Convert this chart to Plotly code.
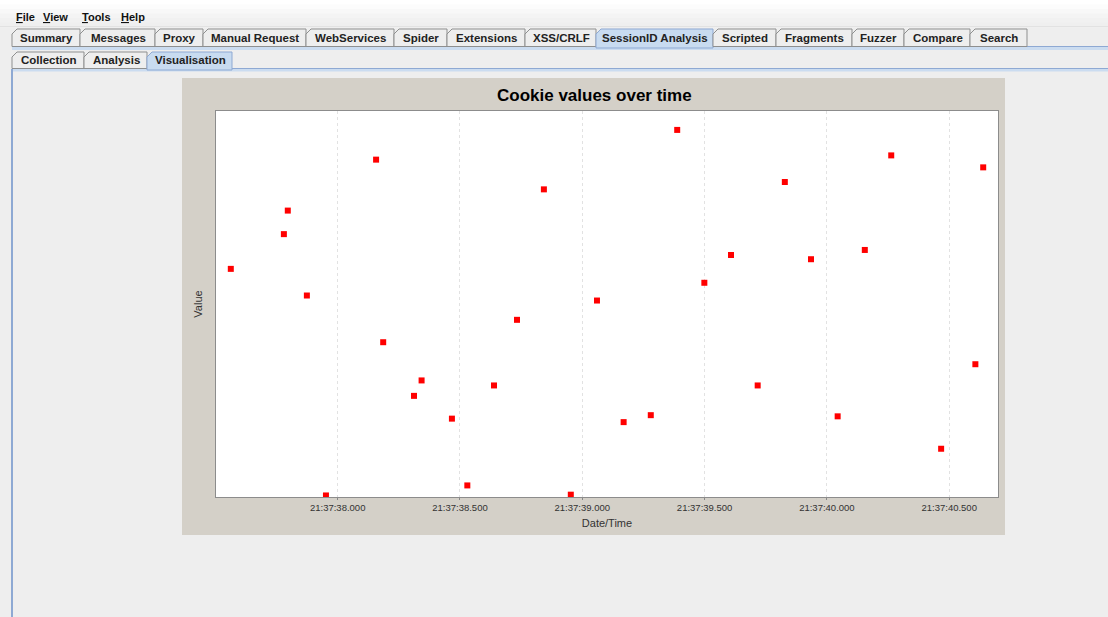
import plotly.graph_objects as go

# ---------------- data ----------------
date_prefix = "2010-06-01 "
times = [
    "21:37:37.563", "21:37:37.780", "21:37:37.796", "21:37:37.874", "21:37:37.952",
    "21:37:38.157", "21:37:38.186", "21:37:38.312", "21:37:38.343", "21:37:38.467",
    "21:37:38.530", "21:37:38.639", "21:37:38.733", "21:37:38.843", "21:37:38.953",
    "21:37:39.060", "21:37:39.169", "21:37:39.280", "21:37:39.388", "21:37:39.499",
    "21:37:39.608", "21:37:39.717", "21:37:39.828", "21:37:39.935", "21:37:40.044",
    "21:37:40.155", "21:37:40.263", "21:37:40.467", "21:37:40.607", "21:37:40.639",
]
values = [
    591, 681, 742, 522, 4,
    874, 401, 262, 302, 203,
    30, 289, 459, 797, 6,
    509, 194, 212, 951, 555,
    627, 289, 816, 616, 209,
    640, 885, 125, 344, 854,
]
x_range = ["21:37:37.5025", "21:37:40.6995"]
y_range = [0, 1000]

menu_items = ["File", "View", "Tools", "Help"]
main_tabs = ["Summary", "Messages", "Proxy", "Manual Request", "WebServices", "Spider",
             "Extensions", "XSS/CRLF", "SessionID Analysis", "Scripted", "Fragments",
             "Fuzzer", "Compare", "Search"]
sub_tabs = ["Collection", "Analysis", "Visualisation"]

# ---------------- layout geometry (pixels) ----------------
W, H = 1108, 617
PL, PR, PT, PB = 216, 998, 111, 497


def X(px):
    return (px - PL) / (PR - PL)


def Y(py):
    return (PB - py) / (PB - PT)


def rect(x0, y0, x1, y1, fill, line=None, lw=0):
    d = dict(type="rect", xref="paper", yref="paper", layer="below",
             x0=X(x0), x1=X(x1), y0=Y(y1), y1=Y(y0), fillcolor=fill)
    if line:
        d["line"] = dict(color=line, width=lw)
    else:
        d["line"] = dict(width=0)
    return d


def tab_path(x0, y0, x1, y1, fill, line):
    p = (f"M {X(x0)},{Y(y1)} L {X(x0)},{Y(y0 + 5)} L {X(x0 + 5)},{Y(y0)} "
         f"L {X(x1)},{Y(y0)} L {X(x1)},{Y(y1)} Z")
    return dict(type="path", xref="paper", yref="paper", layer="below", path=p,
                fillcolor=fill, line=dict(color=line, width=1))


shapes = []
annotations = []

# menu bar gradient
for i, c in enumerate(["#FFFFFF", "#FCFCFC", "#F8F8F8", "#F4F4F4", "#F1F1F1", "#EFEFEF"]):
    shapes.append(rect(0, i * 4.5, W, (i + 1) * 4.5 + 0.5, c))
shapes.append(rect(0, 26, W, 27, "#E2E2E2"))

menu_x = [14, 41, 80, 119]
for name, mx in zip(menu_items, menu_x):
    annotations.append(dict(xref="paper", yref="paper", x=X(mx), y=Y(16.5),
                            xanchor="left", yanchor="middle", showarrow=False,
                            text=f"<u>{name[0]}</u>{name[1:]}",
                            font=dict(family="Liberation Sans", size=11, color="#111111",
                                      weight="bold")))

# main tab row
main_edges = [12, 80, 155, 203, 306, 394, 447, 525, 596, 713, 776, 852, 904, 970, 1027]
shapes.append(rect(12, 46.5, W, 50, "#CBDCF0"))
shapes.append(rect(12, 46, W, 47, "#8EA9D3"))
for i, name in enumerate(main_tabs):
    x0, x1 = main_edges[i], main_edges[i + 1]
    sel = name == "SessionID Analysis"
    shapes.append(tab_path(x0, 29, x1, 46.5 if not sel else 48,
                           "#C8DBF0" if sel else "#EEEEEE",
                           "#8EA9D3" if sel else "#8E8F8F"))
    annotations.append(dict(xref="paper", yref="paper", x=X((x0 + x1) / 2 + 0.5), y=Y(38),
                            xanchor="center", yanchor="middle", showarrow=False,
                            text=name,
                            font=dict(family="Liberation Sans", size=11.5, color="#222222",
                                      weight="bold")))

# sub tab row
sub_edges = [12, 84, 147, 232]
shapes.append(rect(12, 68.5, W, 71.5, "#CBDCF0"))
shapes.append(rect(12, 68, W, 69, "#8EA9D3"))
for i, name in enumerate(sub_tabs):
    x0, x1 = sub_edges[i], sub_edges[i + 1]
    sel = name == "Visualisation"
    shapes.append(tab_path(x0, 52, x1, 68.5 if not sel else 70,
                           "#C8DBF0" if sel else "#EEEEEE",
                           "#8EA9D3" if sel else "#8E8F8F"))
    annotations.append(dict(xref="paper", yref="paper", x=X((x0 + x1) / 2 + 0.5), y=Y(60.5),
                            xanchor="center", yanchor="middle", showarrow=False,
                            text=name,
                            font=dict(family="Liberation Sans", size=11.5, color="#222222",
                                      weight="bold")))

# left content border
shapes.append(rect(11, 69, 13, H, "#8EA9D3"))

# chart panel and plot background
shapes.append(rect(182, 78, 1005, 535, "#D4D0C8"))
shapes.append(rect(PL, PT, PR, PB, "#FFFFFF"))

# chart title
annotations.append(dict(xref="paper", yref="paper", x=X(594), y=Y(95),
                        xanchor="center", yanchor="middle", showarrow=False,
                        text="Cookie values over time",
                        font=dict(family="Liberation Sans", size=17, color="#000000",
                                  weight="bold")))

fig = go.Figure()
fig.add_trace(go.Scatter(
    x=[date_prefix + t for t in times],
    y=values,
    mode="markers",
    marker=dict(symbol="square", size=6, color="#FF0000", line=dict(width=0)),
    showlegend=False,
    hoverinfo="x+y",
))

fig.update_layout(
    width=W, height=H, autosize=False,
    margin=dict(l=PL, r=W - PR, t=PT, b=H - PB, pad=0),
    paper_bgcolor="#EEEEEE",
    plot_bgcolor="rgba(0,0,0,0)",
    shapes=shapes,
    annotations=annotations,
    font=dict(family="Liberation Sans", color="#444444"),
    xaxis=dict(
        type="date",
        range=[date_prefix + x_range[0], date_prefix + x_range[1]],
        tick0=date_prefix + "21:37:38.000",
        dtick=500,
        tickformat="%H:%M:%S.%L",
        tickfont=dict(size=9.5, color="#333333"),
        ticks="outside", ticklen=2, tickcolor="#888888",
        showgrid=True, gridcolor="#E2E2E2", griddash="dot", gridwidth=1,
        showline=True, linecolor="#8C8C8C", linewidth=1, mirror=True,
        zeroline=False,
        title=dict(text="Date/Time", font=dict(size=11, color="#333333"), standoff=6),
    ),
    yaxis=dict(
        range=y_range,
        showticklabels=False, ticks="",
        showgrid=False, zeroline=False,
        showline=True, linecolor="#8C8C8C", linewidth=1, mirror=True,
        title=dict(text="Value", font=dict(size=11, color="#333333"), standoff=10),
    ),
)

fig.write_html("out.html", config={"displayModeBar": False},
               post_script="document.body.style.margin='0';document.body.style.overflow='hidden';")
